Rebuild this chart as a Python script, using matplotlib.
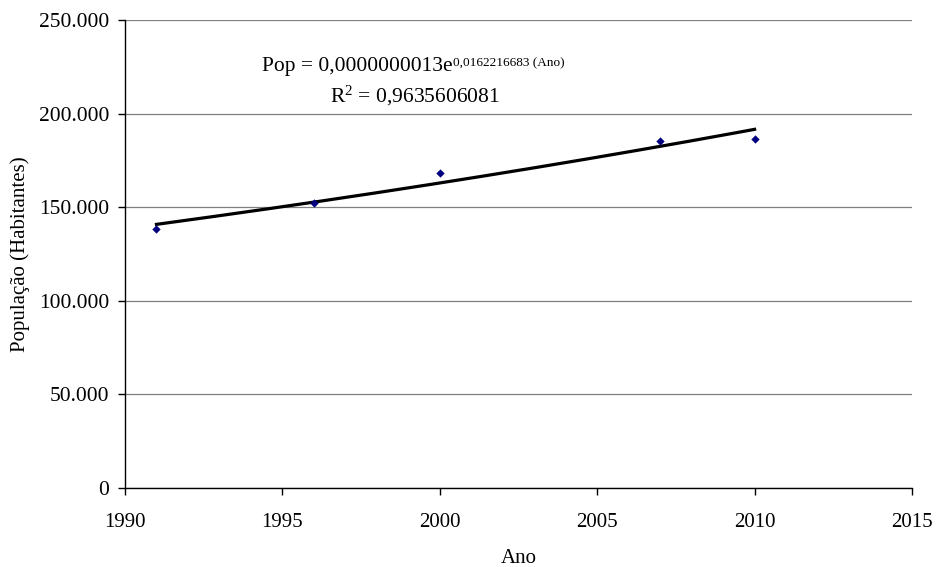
import numpy as np
import matplotlib
matplotlib.use("Agg")
import matplotlib.pyplot as plt
from matplotlib.ticker import FuncFormatter

# Data
anos = [1991, 1996, 2000, 2007, 2010]
populacao = [138400, 152400, 168100, 185400, 186400]
eq_main = "Pop = 0,0000000013e"
eq_sup = "0,0162216683 (Ano)"
r2_text = r"R$^2$ = 0,9635606081"
x_ticks = [1990, 1995, 2000, 2005, 2010, 2015]
y_ticks = [0, 50000, 100000, 150000, 200000, 250000]

plt.rcParams['font.family'] = ['Liberation Serif', 'DejaVu Serif']
plt.rcParams['mathtext.fontset'] = 'custom'
plt.rcParams['mathtext.rm'] = 'Liberation Serif'
plt.rcParams['mathtext.it'] = 'Liberation Serif'
plt.rcParams['mathtext.bf'] = 'Liberation Serif:bold'

fig = plt.figure(figsize=(9.36, 5.67), dpi=100)
ax = fig.add_axes([125/936, 1-488/567, (912-125)/936, (488-20)/567])

# exponential trend fitted from data
coef = np.polyfit(anos, np.log(populacao), 1)
xx = np.linspace(anos[0], anos[-1], 200)
ax.plot(xx, np.exp(np.polyval(coef, xx)), color='black', lw=2.3, zorder=3)
ax.scatter(anos, populacao, marker='D', s=18, color='#000080', zorder=4, linewidths=0)

ax.set_xlim(1990, 2015)
ax.set_ylim(0, 250000)
ax.set_xticks(x_ticks)
ax.set_yticks(y_ticks)
ax.yaxis.set_major_formatter(FuncFormatter(lambda v, p: f"{int(v):,}".replace(",", ".")))
ax.grid(axis='y', color='#808080', lw=0.9)
ax.set_axisbelow(True)
for s in ['top', 'right']:
    ax.spines[s].set_visible(False)
for s in ['left', 'bottom']:
    ax.spines[s].set_linewidth(1.0)
ax.tick_params(axis='both', labelsize=15, length=5, width=1, direction='out')
ax.tick_params(axis='x', pad=13)
ax.tick_params(axis='y', labelsize=15.5, pad=6.5)

ax.set_xlabel("Ano", fontsize=15, labelpad=12)
ax.set_ylabel("População (Habitantes)", fontsize=15, labelpad=6)

t = ax.text(1994.35, 222500, eq_main, fontsize=15.5, ha='left', va='baseline')
ax.annotate(eq_sup, xy=(1.0, 0), xycoords=t, xytext=(0, 7.5), textcoords='offset points',
            fontsize=9.5, ha='left', va='baseline')
ax.text(1999.21, 206000, r2_text, fontsize=15.5, ha='center', va='baseline')

fig.savefig("out.png", dpi=100)
